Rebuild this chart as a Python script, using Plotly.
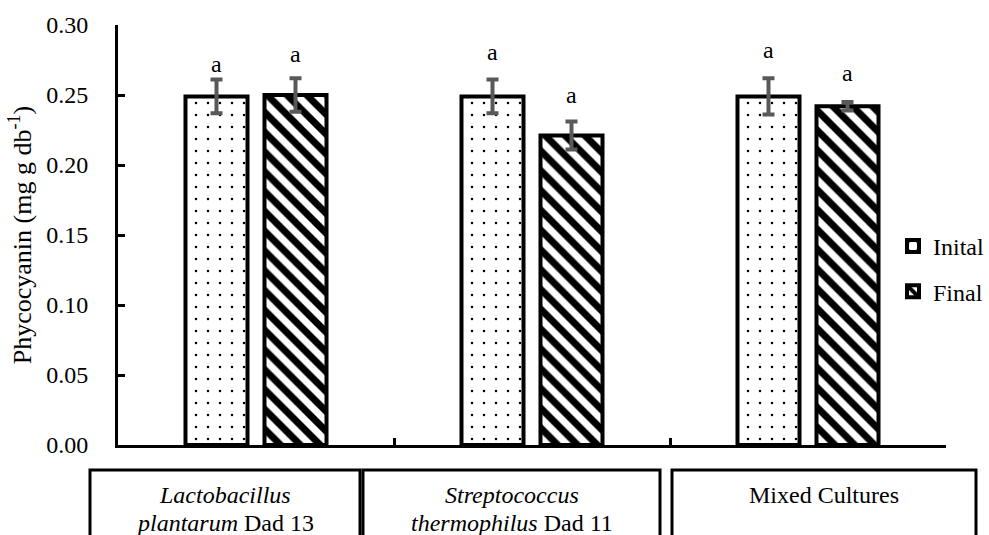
import plotly.graph_objects as go

# ---- data -------------------------------------------------------------
categories = ["L. plantarum Dad 13", "S. thermophilus Dad 11", "Mixed Cultures"]
category_label_lines = [
    ["<i>Lactobacillus</i>", "<i>plantarum</i> Dad 13"],
    ["<i>Streptococcus</i>", "<i>thermophilus</i> Dad 11"],
    ["Mixed Cultures"],
]
series_names = ["Inital", "Final"]
initial_values = [0.249, 0.249, 0.249]
initial_errors = [0.012, 0.012, 0.013]
final_values = [0.250, 0.221, 0.242]
final_errors = [0.012, 0.010, 0.003]
initial_letters = ["a", "a", "a"]
final_letters = ["a", "a", "a"]
initial_letter_y = [0.272, 0.281, 0.282]
final_letter_y = [0.279, 0.250, 0.266]
y_tick_values = [0.00, 0.05, 0.10, 0.15, 0.20, 0.25, 0.30]
y_tick_labels = ["0.00", "0.05", "0.10", "0.15", "0.20", "0.25", "0.30"]

# ---- layout constants ---------------------------------------------------
W, H = 989, 535
M_L, M_R, M_T, M_B = 118, 43, 25, 90
FONT = "Liberation Serif"
BARGAP = 0.4275
BARGROUPGAP = 0.215
ERR_COLOR = "#595959"

plot_w = W - M_L - M_R
plot_h = H - M_T - M_B
slot_px = plot_w / len(categories) * (1 - BARGAP) / 2
letter_shift = slot_px / 2


def px_to_paper_x(px):
    return (px - M_L) / plot_w


def px_to_paper_y(py):
    return (H - M_B - py) / plot_h


fig = go.Figure()

fig.add_trace(go.Bar(
    name=series_names[0],
    x=categories,
    y=initial_values,
    legendgroup="g1",
    marker=dict(
        color="white",
        line=dict(color="black", width=4),
        pattern=dict(shape=".", fgcolor="black", bgcolor="white",
                     fgopacity=1, size=12, solidity=0.035,
                     fillmode="overlay"),
    ),
    error_y=dict(type="data", array=initial_errors, color=ERR_COLOR,
                 thickness=4, width=6),
))

fig.add_trace(go.Bar(
    name=series_names[1],
    x=categories,
    y=final_values,
    legendgroup="g2",
    marker=dict(
        color="white",
        line=dict(color="black", width=4),
        pattern=dict(shape="\\", fgcolor="black", bgcolor="white",
                     fgopacity=1, size=14, solidity=0.5,
                     fillmode="overlay"),
    ),
    error_y=dict(type="data", array=final_errors, color=ERR_COLOR,
                 thickness=4, width=6),
))

annotations = []
# significance letters above each bar
for cat, letter, ly in zip(categories, initial_letters, initial_letter_y):
    annotations.append(dict(x=cat, y=ly, xref="x", yref="y", text=letter,
                            showarrow=False, xshift=-letter_shift,
                            yanchor="middle",
                            font=dict(family=FONT, size=24, color="black")))
for cat, letter, ly in zip(categories, final_letters, final_letter_y):
    annotations.append(dict(x=cat, y=ly, xref="x", yref="y", text=letter,
                            showarrow=False, xshift=letter_shift,
                            yanchor="middle",
                            font=dict(family=FONT, size=24, color="black")))

# boxed category labels under the axis
box_edges_px = [(90, 360), (363, 660), (672, 976)]
box_top_px = 470
line_centers_px = [495, 523]
shapes = []
for (x0, x1), lines in zip(box_edges_px, category_label_lines):
    shapes.append(dict(type="rect", xref="paper", yref="paper",
                       x0=px_to_paper_x(x0), x1=px_to_paper_x(x1),
                       y0=px_to_paper_y(box_top_px), y1=px_to_paper_y(H + 30),
                       line=dict(color="black", width=3),
                       fillcolor="rgba(0,0,0,0)", layer="above"))
    cx = px_to_paper_x((x0 + x1) / 2)
    for text, cy in zip(lines, line_centers_px):
        annotations.append(dict(x=cx, y=px_to_paper_y(cy), xref="paper",
                                yref="paper", text=text, showarrow=False,
                                xanchor="center", yanchor="middle",
                                font=dict(family=FONT, size=24,
                                          color="black")))

fig.update_layout(
    width=W, height=H,
    margin=dict(l=M_L, r=M_R, t=M_T, b=M_B, pad=0, autoexpand=False),
    paper_bgcolor="white",
    plot_bgcolor="white",
    barmode="group",
    bargap=BARGAP,
    bargroupgap=BARGROUPGAP,
    font=dict(family=FONT, size=24, color="black"),
    showlegend=True,
    legend=dict(
        x=px_to_paper_x(893), y=px_to_paper_y(224),
        xanchor="left", yanchor="top",
        font=dict(family=FONT, size=24, color="black"),
        bgcolor="rgba(0,0,0,0)",
        tracegroupgap=11,
        itemwidth=30,
    ),
    annotations=annotations,
    shapes=shapes,
)

fig.update_xaxes(
    type="category",
    showline=True, linecolor="black", linewidth=3,
    ticks="inside", tickson="boundaries", ticklen=7, tickwidth=3,
    tickcolor="black",
    showticklabels=False,
    showgrid=False, zeroline=False,
)

fig.update_yaxes(
    range=[0, 0.30],
    tickvals=y_tick_values,
    ticktext=y_tick_labels,
    showline=True, linecolor="black", linewidth=3,
    ticks="inside", ticklen=7, tickwidth=3, tickcolor="black",
    ticklabelstandoff=22,
    tickfont=dict(family=FONT, size=24, color="black"),
    showgrid=False, zeroline=False,
    title=dict(text="Phycocyanin (mg g db<sup>-1</sup>)",
               font=dict(family=FONT, size=26, color="black"),
               standoff=8),
)

fig.write_html("out.html")
